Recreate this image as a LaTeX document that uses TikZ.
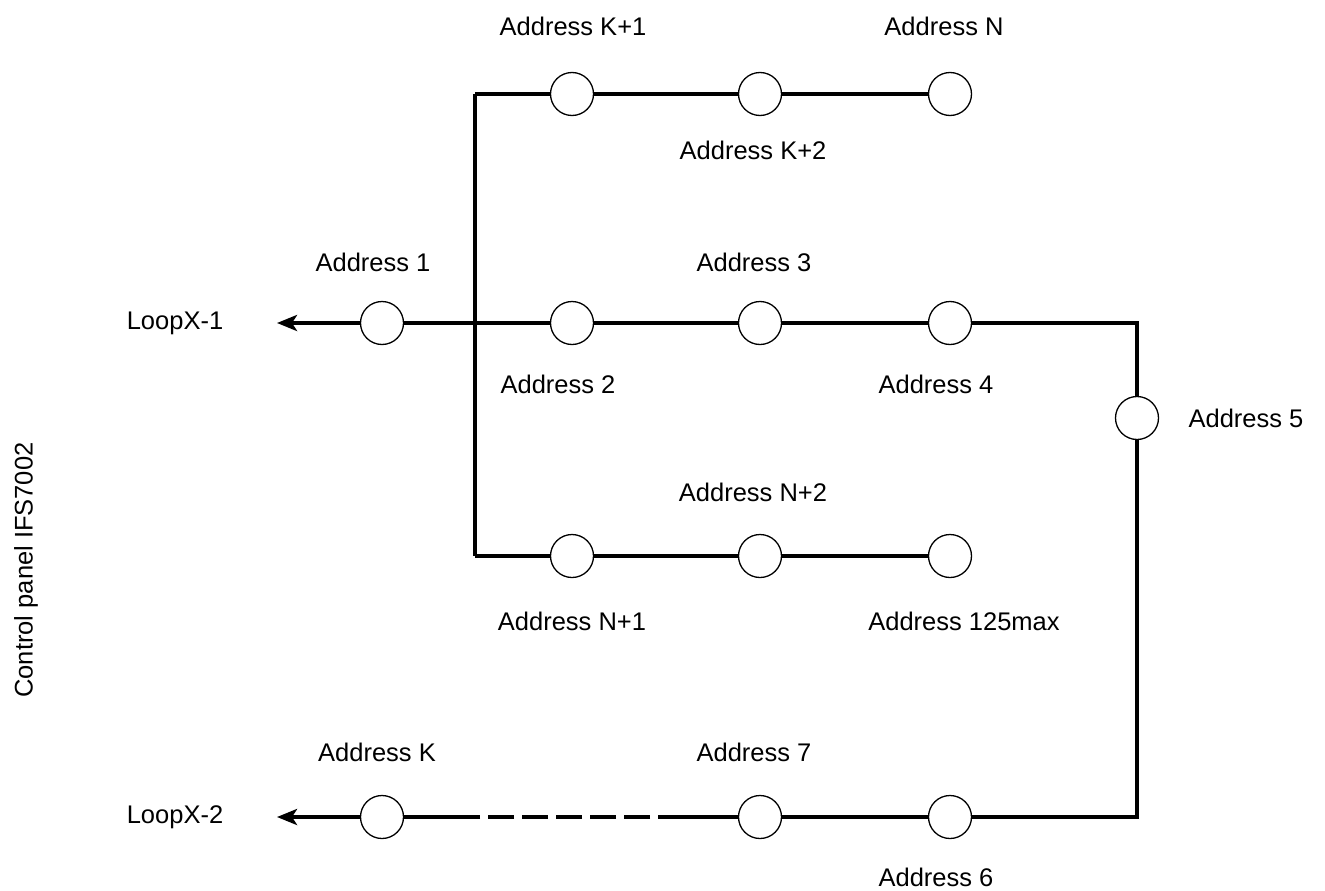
\documentclass[tikz,border=0pt]{standalone}
\usepackage{fontspec}
\setmainfont{Liberation Sans}
\usetikzlibrary{arrows.meta}
\begin{document}
\begin{tikzpicture}[x=1pt,y=-1pt,
  dev/.style={circle,draw,line width=1.3pt,minimum size=43pt,inner sep=0pt,fill=white},
  wire/.style={line width=4.8pt,line join=miter},
  lbl/.style={font=\fontsize{25.5}{30}\selectfont,inner sep=0pt},
  arr/.style={-{Stealth[length=20pt,width=16pt,inset=5pt]}}]
\useasboundingbox (0,0) rectangle (1325,891);
% coordinates
\coordinate (tl) at (475,94);
\coordinate (bl) at (475,556);
\coordinate (tr) at (1137,323);
\coordinate (br) at (1137,817);
\coordinate (o1) at (277,323);
\coordinate (o2) at (277,817);
\coordinate (d1) at (458,817);
\coordinate (d2) at (684,817);
% wires
\draw[wire] (tl) -- (bl);
\draw[wire] (tl) -- (572,94) -- (760,94) -- (950,94);
\draw[wire] (bl) -- (572,556) -- (760,556) -- (950,556);
\draw[wire] (382,323) -- (950,323) -- (tr) -- (br) -- (950,817) -- (760,817);
\draw[wire] (760,817) -- (d2);
\draw[wire,dash pattern=on 26pt off 8pt] (d2) -- (d1);
\draw[wire] (d1) -- (382,817);
\draw[wire,arr] (382,323) -- (o1);
\draw[wire,arr] (382,817) -- (o2);
% devices
\node[dev] (k1) at (572,94) {};
\node[dev] (k2) at (760,94) {};
\node[dev] (n) at (950,94) {};
\node[dev] (a1) at (382,323) {};
\node[dev] (a2) at (572,323) {};
\node[dev] (a3) at (760,323) {};
\node[dev] (a4) at (950,323) {};
\node[dev] (a5) at (1137,418) {};
\node[dev] (n1) at (572,556) {};
\node[dev] (n2) at (760,556) {};
\node[dev] (m) at (950,556) {};
\node[dev] (ak) at (382,817) {};
\node[dev] (a7) at (760,817) {};
\node[dev] (a6) at (950,817) {};
% labels
\node[lbl] (lk1) at (573,26) {Address K+1};
\node[lbl] (ln) at (944,26) {Address N};
\node[lbl] (lk2) at (753,150) {Address K+2};
\node[lbl] (l1) at (373,262) {Address 1};
\node[lbl] (l3) at (754,262) {Address 3};
\node[lbl] (l2) at (558,384) {Address 2};
\node[lbl] (l4) at (936,384) {Address 4};
\node[lbl] (l5) at (1246,418) {Address 5};
\node[lbl] (ln2) at (753,492) {Address N+2};
\node[lbl] (ln1) at (572,621) {Address N+1};
\node[lbl] (lm) at (964,621) {Address 125max};
\node[lbl] (lk) at (377,752) {Address K};
\node[lbl] (l7) at (754,752) {Address 7};
\node[lbl] (l6) at (936,877) {Address 6};
\node[lbl] (lo1) at (175,323) {LoopX-1};
\node[lbl] (lo2) at (175,817) {LoopX-2};
\node[lbl,rotate=90] (cp) at (26,570) {Control panel IFS7002};
\end{tikzpicture}
\end{document}
